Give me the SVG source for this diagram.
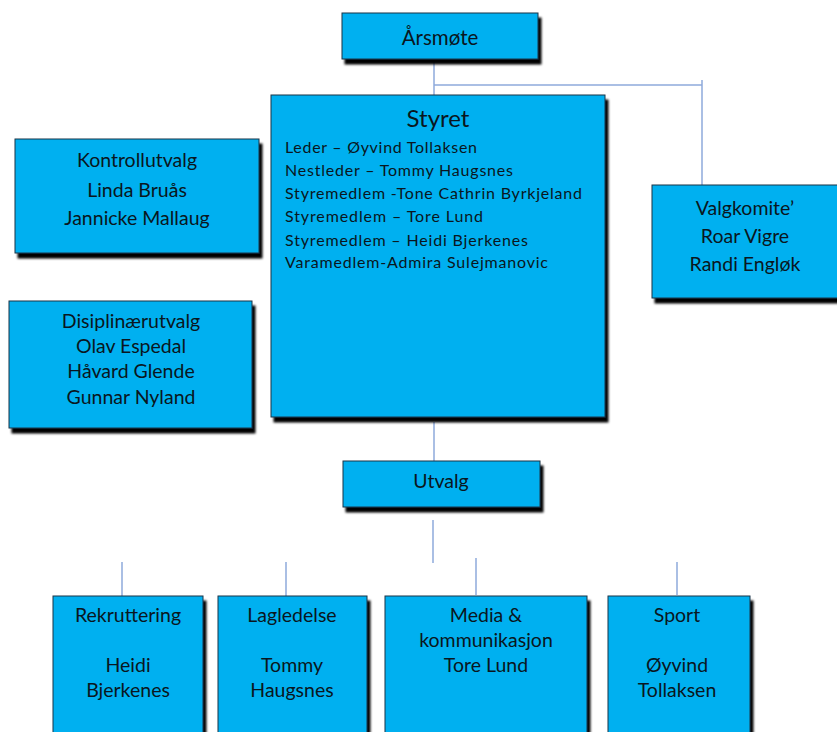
<svg xmlns="http://www.w3.org/2000/svg" width="837" height="732" viewBox="0 0 837 732">
<defs>
<filter id="sh" x="-10%" y="-10%" width="130%" height="140%">
<feDropShadow dx="3" dy="5" stdDeviation="1.3" flood-color="#000" flood-opacity="1"/>
</filter>
</defs>
<style>
.box{fill:#00B0F0;stroke:#1c3446;stroke-width:1;filter:url(#sh)}
.t{font-family:Lato,"Open Sans","Liberation Sans",sans-serif;fill:#0a1620;font-size:19.5px}
.c{text-anchor:middle}
.s{font-size:16px}
.con{fill:none;stroke:#8eaadb;stroke-width:1.5}
</style>
<rect width="837" height="732" fill="#fff"/>
<g id="connectors" class="con">
<path d="M434,60 V95"/>
<path d="M434,85 H702"/>
<path d="M702,80 V185"/>
<path d="M434,422 V461"/>
<path d="M433,520 V563"/>
<path d="M476,558 V595"/>
<path d="M122,562 V596"/>
<path d="M286,562 V596"/>
<path d="M677,562 V595"/>
</g>
<g id="arsmote">
<rect class="box" x="342" y="13" width="196" height="46"/>
<text class="t c" x="440" y="45" style="font-size:20.5px">Årsmøte</text>
</g>
<g id="styret">
<rect class="box" x="271" y="95" width="334" height="322"/>
<text class="t c" x="438" y="127" style="font-size:24px">Styret</text>
<text class="t s" x="285" y="153" textLength="192" lengthAdjust="spacing">Leder – Øyvind Tollaksen</text>
<text class="t s" x="285" y="176" textLength="228" lengthAdjust="spacing">Nestleder – Tommy  Haugsnes</text>
<text class="t s" x="285" y="199" textLength="297" lengthAdjust="spacing">Styremedlem -Tone Cathrin Byrkjeland</text>
<text class="t s" x="285" y="222" textLength="198" lengthAdjust="spacing">Styremedlem – Tore Lund</text>
<text class="t s" x="285" y="246" textLength="243" lengthAdjust="spacing">Styremedlem – Heidi Bjerkenes</text>
<text class="t s" x="285" y="268" textLength="263" lengthAdjust="spacing">Varamedlem-Admira Sulejmanovic</text>
</g>
<g id="kontrollutvalg">
<rect class="box" x="15" y="139" width="244" height="114"/>
<text class="t c" x="137" y="167">Kontrollutvalg</text>
<text class="t c" x="137" y="197">Linda Bruås</text>
<text class="t c" x="137" y="225">Jannicke Mallaug</text>
</g>
<g id="disiplinaerutvalg">
<rect class="box" x="9" y="301" width="243" height="127"/>
<text class="t c" x="131" y="328">Disiplinærutvalg</text>
<text class="t c" x="131" y="353">Olav Espedal</text>
<text class="t c" x="131" y="378">Håvard Glende</text>
<text class="t c" x="131" y="404">Gunnar Nyland</text>
</g>
<g id="valgkomite">
<rect class="box" x="652" y="185" width="190" height="113"/>
<text class="t c" x="745" y="215">Valgkomite’</text>
<text class="t c" x="745" y="243">Roar Vigre</text>
<text class="t c" x="745" y="271">Randi Engløk</text>
</g>
<g id="utvalg">
<rect class="box" x="343" y="461" width="197" height="46"/>
<text class="t c" x="441" y="488">Utvalg</text>
</g>
<g id="rekruttering">
<rect class="box" x="53" y="596" width="150" height="150"/>
<text class="t c" x="128" y="622">Rekruttering</text>
<text class="t c" x="128" y="672">Heidi</text>
<text class="t c" x="128" y="697">Bjerkenes</text>
</g>
<g id="lagledelse">
<rect class="box" x="218" y="596" width="149" height="150"/>
<text class="t c" x="292" y="622">Lagledelse</text>
<text class="t c" x="292" y="672">Tommy</text>
<text class="t c" x="292" y="697">Haugsnes</text>
</g>
<g id="media">
<rect class="box" x="385" y="596" width="202" height="150"/>
<text class="t c" x="486" y="622">Media &amp;</text>
<text class="t c" x="486" y="647">kommunikasjon</text>
<text class="t c" x="486" y="672">Tore Lund</text>
</g>
<g id="sport">
<rect class="box" x="608" y="596" width="142" height="150"/>
<text class="t c" x="677" y="622">Sport</text>
<text class="t c" x="677" y="672">Øyvind</text>
<text class="t c" x="677" y="697">Tollaksen</text>
</g>
</svg>
